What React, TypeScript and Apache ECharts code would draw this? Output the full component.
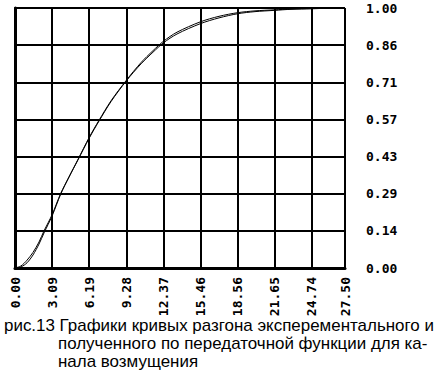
import React, { useEffect, useRef } from "react";
import * as echarts from "echarts";

const xTickLabels = ["0.00", "3.09", "6.19", "9.28", "12.37", "15.46", "18.56", "21.65", "24.74", "27.50"];
const yTickLabels = ["0.00", "0.14", "0.29", "0.43", "0.57", "0.71", "0.86", "1.00"];
const xStep = 3.0927;
const xMax = 27.5;

const tValues = [0, 0.5, 1, 1.5, 2, 2.42, 3.09, 3.8, 4.5, 5.23, 6.19, 7, 8, 9.28, 10.5, 11.5, 12.37, 13.5, 15.46, 17, 18.56, 20, 21.65, 23, 24.74, 26, 27.5];
const modelValues = [0, 0.008, 0.03, 0.06, 0.1, 0.143, 0.205, 0.286, 0.35, 0.414, 0.5, 0.565, 0.64, 0.72, 0.785, 0.83, 0.866, 0.9, 0.94, 0.962, 0.978, 0.986, 0.991, 0.995, 0.997, 0.999, 1];
const experimentValues = [0, 0.004, 0.02, 0.05, 0.092, 0.135, 0.2, 0.283, 0.35, 0.416, 0.503, 0.568, 0.643, 0.722, 0.79, 0.836, 0.872, 0.907, 0.947, 0.968, 0.982, 0.989, 0.993, 0.996, 0.998, 0.999, 1];

const captionLines = [
  "рис.13 Графики кривых разгона эксперементального и",
  "полученного по передаточной функции для ка-",
  "нала возмущения",
];

export default function App() {
  const ref = useRef<HTMLDivElement>(null);
  useEffect(() => {
    if (!ref.current) return;
    const chart = echarts.init(ref.current, undefined, { renderer: "svg" });
    const labelFont = {
      fontFamily: "DejaVu Sans Mono",
      fontWeight: "bold" as const,
      fontSize: 13,
      color: "#000",
    };
    chart.setOption({
      animation: false,
      backgroundColor: "#fff",
      grid: { left: 15, top: 8, width: 330, height: 260, containLabel: false },
      xAxis: {
        type: "value",
        min: 0,
        max: xMax,
        interval: xStep,
        axisLine: { show: true, onZero: false, lineStyle: { color: "#000", width: 3 } },
        axisTick: { show: false },
        splitLine: { show: true, lineStyle: { color: "#000", width: 2 } },
        axisLabel: {
          ...labelFont,
          rotate: 90,
          margin: 9,
          interval: 0,
          showMinLabel: true,
          showMaxLabel: true,
          formatter: (v: number) => xTickLabels[Math.min(xTickLabels.length - 1, Math.round(v / xStep))],
        },
      },
      yAxis: [
        {
          type: "value",
          position: "right",
          min: 0,
          max: 1,
          interval: 1 / 7,
          axisLine: { show: true, lineStyle: { color: "#000", width: 2 } },
          axisTick: { show: false },
          splitLine: { show: true, lineStyle: { color: "#000", width: 2 } },
          axisLabel: {
            ...labelFont,
            margin: 21,
            padding: [4, 0, 0, 0],
            formatter: (v: number) => yTickLabels[Math.round(v * 7)],
          },
        },
        {
          type: "value",
          position: "left",
          min: 0,
          max: 1,
          interval: 1 / 7,
          axisLine: { show: true, lineStyle: { color: "#000", width: 3 } },
          axisTick: { show: false },
          splitLine: { show: false },
          axisLabel: { show: false },
        },
      ],
      series: [
        {
          type: "line",
          yAxisIndex: 0,
          data: tValues.map((t, i) => [t, modelValues[i]]),
          showSymbol: false,
          smooth: 0.3,
          lineStyle: { color: "#000", width: 1 },
        },
        {
          type: "line",
          yAxisIndex: 0,
          data: tValues.map((t, i) => [t, experimentValues[i]]),
          showSymbol: false,
          smooth: 0.3,
          lineStyle: { color: "#000", width: 1 },
        },
      ],
      graphic: captionLines.map((line, i) => ({
        type: "text",
        x: i === 0 ? 4 : 58,
        y: 317 + i * 18,
        scaleX: 1.06,
        style: {
          text: line,
          fill: "#000",
          font: "16px 'Liberation Sans', Arial, sans-serif",
          verticalAlign: "top",
        },
      })),
    });
    return () => chart.dispose();
  }, []);
  return (
    <div
      ref={ref}
      style={{ position: "fixed", left: 0, top: 0, width: 438, height: 377, background: "#fff" }}
    />
  );
}
